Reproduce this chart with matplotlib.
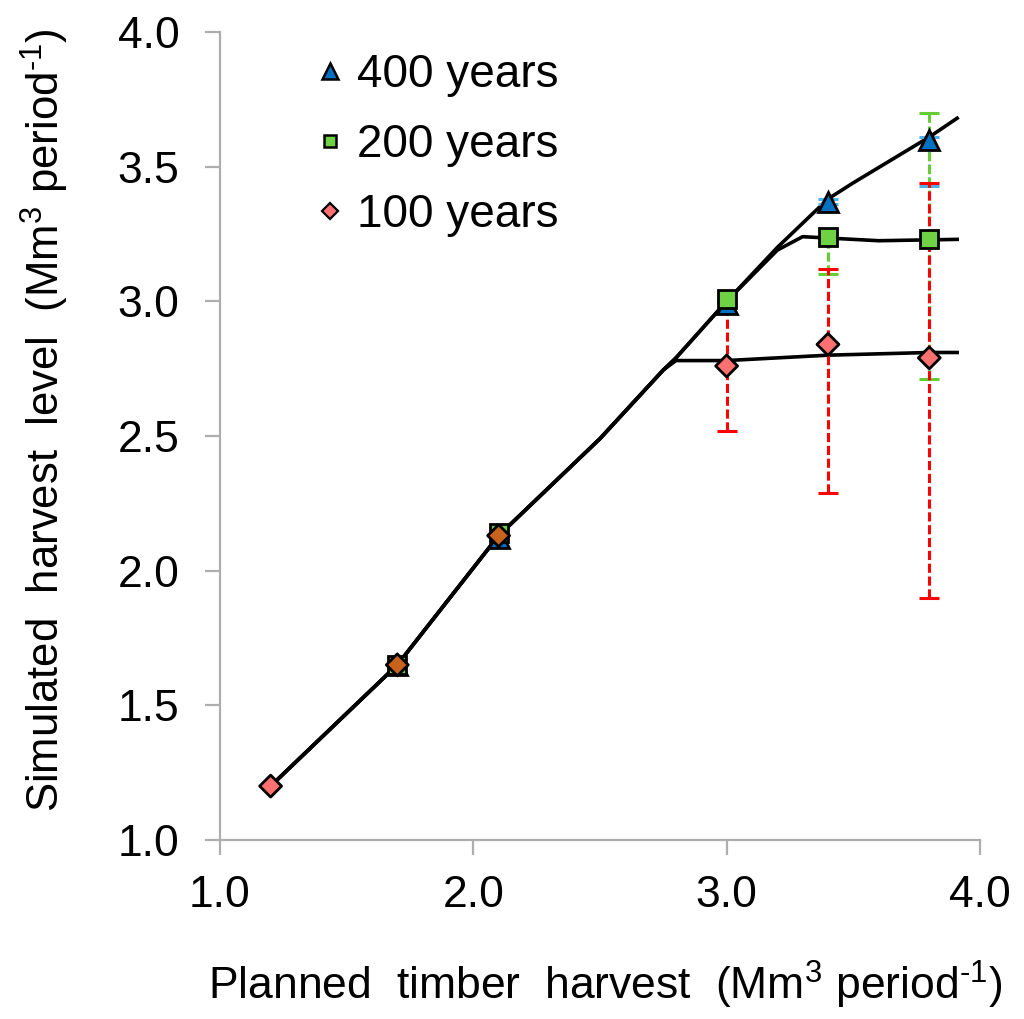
import matplotlib
matplotlib.use("Agg")
import matplotlib.pyplot as plt
from matplotlib.lines import Line2D

plt.rcParams['font.family'] = ['Liberation Sans', 'DejaVu Sans']
plt.rcParams['mathtext.fontset'] = 'custom'
plt.rcParams['mathtext.rm'] = 'Liberation Sans'
plt.rcParams['mathtext.it'] = 'Liberation Sans'

# simulated harvest level per planned harvest, for each planning horizon
x_400 = [1.7, 2.1, 3.0, 3.4, 3.8]
y_400 = [1.65, 2.12, 2.99, 3.37, 3.60]
x_200 = [1.7, 2.1, 3.0, 3.4, 3.8]
y_200 = [1.65, 2.14, 3.01, 3.24, 3.23]
x_100 = [1.2, 1.7, 2.1, 3.0, 3.4, 3.8]
y_100 = [1.20, 1.65, 2.13, 2.76, 2.84, 2.79]

# error bar ranges (low, high)
err_x_400 = [3.4, 3.8]
err_y_400 = [3.37, 3.60]
err_lo_400 = [3.36, 3.43]
err_hi_400 = [3.38, 3.61]
err_x_200 = [3.0, 3.4, 3.8]
err_y_200 = [3.01, 3.24, 3.23]
err_lo_200 = [2.99, 3.10, 2.71]
err_hi_200 = [3.03, 3.26, 3.70]
err_x_100 = [3.0, 3.4, 3.8]
err_y_100 = [2.76, 2.84, 2.79]
err_lo_100 = [2.52, 2.29, 1.90]
err_hi_100 = [3.00, 3.12, 3.44]

# smoothed curves
curve_x_400 = [1.2, 1.7, 2.1, 2.5, 2.75, 2.8, 3.0, 3.2, 3.4, 3.5, 3.8, 3.91]
curve_y_400 = [1.2, 1.65, 2.13, 2.49, 2.745, 2.79, 3.0, 3.2, 3.38, 3.44, 3.61, 3.68]
curve_x_200 = [1.2, 1.7, 2.1, 2.5, 2.75, 2.8, 3.0, 3.2, 3.3, 3.6, 3.91]
curve_y_200 = [1.2, 1.65, 2.13, 2.49, 2.745, 2.79, 3.0, 3.19, 3.24, 3.225, 3.23]
curve_x_100 = [1.2, 1.7, 2.1, 2.5, 2.75, 2.8, 3.0, 3.4, 3.8, 3.91]
curve_y_100 = [1.2, 1.65, 2.13, 2.49, 2.745, 2.78, 2.78, 2.80, 2.81, 2.81]

labels = ["400 years", "200 years", "100 years"]
blue = "#0070C0"
green = "#6FD244"
salmon = "#FF7171"
orange = "#C8631E"
fc_100 = [salmon, orange, orange, salmon, salmon, salmon]

fig = plt.figure(figsize=(10.24, 10.19), dpi=100)
ax = fig.add_axes([0.2148, 0.1757, 0.7422, 0.7929])

for cx, cy in [(curve_x_400, curve_y_400), (curve_x_200, curve_y_200), (curve_x_100, curve_y_100)]:
    ax.plot(cx, cy, color="black", lw=2.6, zorder=2, solid_joinstyle="round")

def err(x, y, lo, hi, col):
    e = ax.errorbar(x, y, yerr=[[b - a for a, b in zip(lo, y)], [b - a for a, b in zip(y, hi)]],
                    fmt="none", ecolor=col, elinewidth=2.2, capsize=7, capthick=2.2, zorder=3)
    e[2][0].set_linestyle((0, (3, 1.2)))

err(err_x_400, err_y_400, err_lo_400, err_hi_400, "#4FB3E8")
err(err_x_200, err_y_200, err_lo_200, err_hi_200, "#66CC33")
err(err_x_100, err_y_100, err_lo_100, err_hi_100, "#FF0000")

ax.plot(x_400, y_400, ls="none", marker="^", ms=14, mfc=blue, mec="black", mew=2, zorder=4)
ax.plot(x_200, y_200, ls="none", marker="s", ms=12.5, mfc=green, mec="black", mew=2, zorder=5)
ax.scatter(x_100, y_100, marker="D", s=125, c=fc_100, edgecolors="black", linewidths=2, zorder=6)

handles = [
    Line2D([], [], ls="none", marker="^", ms=11, mfc=blue, mec="black", mew=1.8),
    Line2D([], [], ls="none", marker="s", ms=9, mfc=green, mec="black", mew=1.8),
    Line2D([], [], ls="none", marker="D", ms=8, mfc=salmon, mec="black", mew=1.6),
]
ax.legend(handles, labels, loc="upper left", bbox_to_anchor=(0.06, 1.025), frameon=False,
          fontsize=33, handletextpad=0.1, labelspacing=0.57, handlelength=1.0)

ax.set_xlim(1.0, 4.0)
ax.set_ylim(1.0, 4.0)
ax.set_xticks([1.0, 2.0, 3.0, 4.0])
ax.set_yticks([1.0, 1.5, 2.0, 2.5, 3.0, 3.5, 4.0])
ax.set_xticklabels(["1.0", "2.0", "3.0", "4.0"])
ax.set_yticklabels(["1.0", "1.5", "2.0", "2.5", "3.0", "3.5", "4.0"])

for s in ["top", "right"]:
    ax.spines[s].set_visible(False)
for s in ["left", "bottom"]:
    ax.spines[s].set_color("#AEAEAE")
    ax.spines[s].set_linewidth(1.6)
ax.tick_params(axis="both", colors="#AEAEAE", width=1.6, length=11, labelsize=32, labelcolor="black")
ax.tick_params(axis="y", pad=18)
ax.tick_params(axis="x", pad=14)

ax.set_xlabel(r"Planned  timber  harvest  (Mm$^{3}$ period$^{\text{-1}}$)", fontsize=32)
ax.set_ylabel(r"Simulated  harvest  level  (Mm$^{3}$ period$^{\text{-1}}$)", fontsize=31.5)
ax.xaxis.label.set_va("center")
ax.yaxis.label.set_va("center")
ax.xaxis.set_label_coords(0.507, -0.1795)
ax.yaxis.set_label_coords(-0.23, 0.52)

fig.savefig("out.png", dpi=100)
